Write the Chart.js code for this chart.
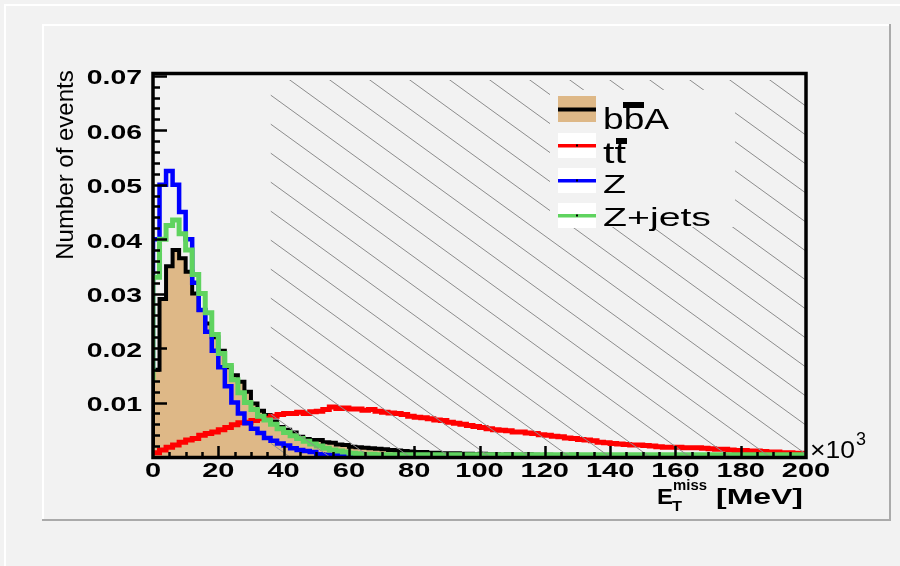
<!DOCTYPE html>
<html>
<head>
<meta charset="utf-8">
<script src="https://cdn.jsdelivr.net/npm/chart.js@4.4.1/dist/chart.umd.min.js"></script>
<style>
  html, body { margin: 0; padding: 0; background: #f2f2f2; }
  canvas { display: block; }
</style>
</head>
<body>
<canvas id="c" width="900" height="566"></canvas>
<script>
// histogram binning (x in units of 10^3 MeV)
const binWidth = 2;
const xTickLabels = ['0', '20', '40', '60', '80', '100', '120', '140', '160', '180', '200'];
const yTickLabels = ['0.01', '0.02', '0.03', '0.04', '0.05', '0.06', '0.07'];
const seriesNames = ['bbA', 'tt', 'Z', 'Z+jets'];
const cutStart = 36;

// bbA signal (filled)
const bbA = [
  0.002, 0.016, 0.029, 0.035, 0.038, 0.0365, 0.034, 0.030, 0.027, 0.0245,
  0.022, 0.0195, 0.0165, 0.015, 0.0138, 0.012, 0.0098, 0.0085, 0.0077, 0.0065,
  0.0055, 0.0050, 0.0045, 0.0037, 0.0033, 0.0031, 0.0031, 0.0027, 0.0026, 0.0023,
  0.0022, 0.0019, 0.0018, 0.0017, 0.0016, 0.0015, 0.0014, 0.0013, 0.0012, 0.0011,
  0.0010, 0.0009, 0.0009, 0.0008, 0.0008, 0.0007, 0.0007, 0.0007, 0.0006, 0.0006,
  0.0005, 0.0006, 0.0005, 0.0005, 0.0004, 0.0005, 0.0004, 0.0004, 0.0005, 0.0004,
  0.0003, 0.0004, 0.0003, 0.0003, 0.0003, 0.0004, 0.0003, 0.0003, 0.0002, 0.0003,
  0.0002, 0.0002, 0.0003, 0.0002, 0.0002, 0.0002, 0.0002, 0.0002, 0.0002, 0.0002,
  0.0002, 0.0002, 0.0001, 0.0002, 0.0002, 0.0001, 0.0002, 0.0001, 0.0001, 0.0002,
  0.0001, 0.0001, 0.0001, 0.0001, 0.0001, 0.0001, 0.0001, 0.0001, 0.0001, 0.0001
];

// ttbar
const ttbar = [
  0.0004, 0.0008, 0.0013, 0.0018, 0.0022, 0.0027, 0.0031, 0.0034, 0.0040, 0.0043,
  0.0046, 0.0050, 0.0054, 0.0059, 0.0063, 0.0064, 0.0067, 0.0070, 0.0071, 0.0075,
  0.0078, 0.0080, 0.0080, 0.0082, 0.0080, 0.0083, 0.0084, 0.0087, 0.0092, 0.0089,
  0.0090, 0.0088, 0.0088, 0.0086, 0.0087, 0.0084, 0.0082, 0.0081, 0.0080, 0.0078,
  0.0075, 0.0073, 0.0072, 0.0070, 0.0068, 0.0067, 0.0064, 0.0062, 0.0060, 0.0058,
  0.0056, 0.0054, 0.0052, 0.0050, 0.0049, 0.0048, 0.0046, 0.0046, 0.0044, 0.0043,
  0.0041, 0.0040, 0.0038, 0.0037, 0.0035, 0.0034, 0.0032, 0.0031, 0.0030, 0.0027,
  0.0026, 0.0025, 0.0024, 0.0023, 0.0022, 0.0022, 0.0021, 0.0020, 0.0019, 0.0018,
  0.0018, 0.0018, 0.0017, 0.0017, 0.0017, 0.0016, 0.0015, 0.0014, 0.0014, 0.0013,
  0.0012, 0.0012, 0.0011, 0.0011, 0.0010, 0.0009, 0.0009, 0.0008, 0.0008, 0.0007
];

// Z
const zOnly = [
  0.016, 0.040, 0.050, 0.0525, 0.050, 0.045, 0.040, 0.032, 0.027, 0.023,
  0.0195, 0.0165, 0.013, 0.0100, 0.0080, 0.0062, 0.0052, 0.0044, 0.0035, 0.0030,
  0.0025, 0.0021, 0.0016, 0.0013, 0.0011, 0.0009, 0.0005, 0.0004, 0.0003, 0.0003,
  0.0002, 0.0002, 0.0001, 0.0001, 0.0001, 0.0001, 0.0001, 0, 0, 0,
  0, 0, 0, 0, 0, 0, 0, 0, 0, 0,
  0, 0, 0, 0, 0, 0, 0, 0, 0, 0,
  0, 0, 0, 0, 0, 0, 0, 0, 0, 0,
  0, 0, 0, 0, 0, 0, 0, 0, 0, 0,
  0, 0, 0, 0, 0, 0, 0, 0, 0, 0,
  0, 0, 0, 0, 0, 0, 0, 0, 0, 0
];

// Z+jets
const zJets = [
  0.014, 0.033, 0.040, 0.0425, 0.0435, 0.041, 0.038, 0.0335, 0.030, 0.0265,
  0.0225, 0.019, 0.0168, 0.0142, 0.0118, 0.010, 0.0087, 0.0075, 0.0068, 0.0060,
  0.0052, 0.0045, 0.0039, 0.0034, 0.0029, 0.0024, 0.0020, 0.0016, 0.0013, 0.0011,
  0.0009, 0.0007, 0.0006, 0.0005, 0.0005, 0.0004, 0.0004, 0.0004, 0.0004, 0.0004,
  0.0004, 0.0004, 0.0004, 0.0004, 0.0004, 0.0004, 0.0004, 0.0004, 0.0004, 0.0004,
  0.0004, 0.0004, 0.0004, 0.0004, 0.0004, 0.0004, 0.0004, 0.0004, 0.0004, 0.0004,
  0.0004, 0.0004, 0.0004, 0.0004, 0.0004, 0.0004, 0.0004, 0.0004, 0.0004, 0.0004,
  0.0004, 0.0004, 0.0004, 0.0004, 0.0004, 0.0004, 0.0004, 0.0004, 0.0004, 0.0004,
  0.0004, 0.0004, 0.0004, 0.0004, 0.0004, 0.0004, 0.0004, 0.0004, 0.0004, 0.0004,
  0.0004, 0.0004, 0.0004, 0.0004, 0.0004, 0.0004, 0.0004, 0.0004, 0.0004, 0.0004
];

const FONT = '"Liberation Sans", Arial, Helvetica, sans-serif';

// left bin edges, plus closing point so last bin gets drawn
function histPoints(vals) {
  const pts = vals.map((v, i) => ({ x: i * binWidth, y: v }));
  pts.push({ x: vals.length * binWidth, y: vals[vals.length - 1] });
  return pts;
}

// text squeezed/stretched horizontally, ROOT output looks wide
function txt(c, s, x, y, font, opt) {
  opt = opt || {};
  c.save();
  c.font = font;
  c.fillStyle = opt.color || '#000';
  const nat = c.measureText(s).width;
  const sx = opt.width ? opt.width / nat : (opt.sx || 1);
  c.translate(x, y);
  c.scale(sx, 1);
  c.textAlign = opt.align || 'left';
  c.textBaseline = opt.base || 'alphabetic';
  c.fillText(s, 0, 0);
  c.restore();
}

const rootStyle = {
  id: 'rootStyle',
  beforeDraw(chart) {
    const c = chart.ctx;
    c.save();
    c.fillStyle = '#f2f2f2';
    c.fillRect(0, 0, chart.width, chart.height);
    // outer canvas edge
    c.strokeStyle = '#ffffff';
    c.lineWidth = 2;
    c.beginPath();
    c.moveTo(5, 566); c.lineTo(5, 5); c.lineTo(900, 5);
    c.stroke();
    // pad bevel
    c.beginPath();
    c.moveTo(43, 520); c.lineTo(43, 25); c.lineTo(890, 25);
    c.stroke();
    c.strokeStyle = '#aaaaaa';
    c.beginPath();
    c.moveTo(890, 24); c.lineTo(890, 520); c.lineTo(42, 520);
    c.stroke();
    c.restore();
  },
  afterDatasetsDraw(chart) {
    const c = chart.ctx;
    const a = chart.chartArea;
    const xs = chart.scales.x, ys = chart.scales.y;

    // hatched cut region
    const hx = xs.getPixelForValue(cutStart);
    c.save();
    c.beginPath();
    c.rect(hx, 80, a.right - hx, a.bottom - 80);
    c.clip();
    c.strokeStyle = '#8c8c8c';
    c.lineWidth = 1;
    c.beginPath();
    for (let k = -30; k < 20; k++) {
      const y0 = 95 + k * 29;
      c.moveTo(hx, y0);
      c.lineTo(a.right, y0 + 0.725 * (a.right - hx));
    }
    c.stroke();
    c.restore();

    // legend
    c.save();
    c.fillStyle = '#f2f2f2';
    c.fillRect(550, 90, 185, 137);
    c.fillStyle = '#deb887';
    c.fillRect(558, 96, 38, 26);
    c.fillStyle = '#000';
    c.fillRect(558, 107.5, 38, 4);
    const legRows = [
      { y: 133, col: '#ff0000' },
      { y: 168, col: '#0000ff' },
      { y: 203, col: '#5fd35f' }
    ];
    legRows.forEach(r => {
      c.fillStyle = '#ffffff';
      c.fillRect(558, r.y, 38, 25);
      c.fillStyle = r.col;
      c.fillRect(558, r.y + 11, 38, 3.5);
      c.fillStyle = '#000';
      c.fillRect(576, r.y + 11.5, 2, 2);
    });
    txt(c, seriesNames[0], 603, 129, '29px ' + FONT, { width: 66 });
    c.fillRect(623, 102, 21, 6);
    txt(c, seriesNames[1], 603, 163, '29px ' + FONT, { width: 23 });
    c.fillRect(616, 138, 11, 6);
    txt(c, seriesNames[2], 603, 193, '26px ' + FONT, { width: 23 });
    txt(c, seriesNames[3], 603, 226, '26px ' + FONT, { width: 108 });
    c.restore();

    // frame
    c.save();
    c.strokeStyle = '#000';
    c.lineWidth = 3.5;
    c.strokeRect(a.left, a.top + 0.5, a.right - a.left, a.bottom - a.top);

    // y ticks (inside)
    c.lineWidth = 2.5;
    c.beginPath();
    for (let v = 0.002; v <= ys.max + 1e-9; v += 0.002) {
      const py = Math.round(ys.getPixelForValue(v)) + 0.5;
      const major = Math.abs(v / 0.01 - Math.round(v / 0.01)) < 1e-6;
      c.moveTo(a.left, py);
      c.lineTo(a.left + (major ? 14 : 7), py);
    }
    // x ticks (inside, pointing up)
    for (let v = 5; v < 200; v += 5) {
      const px = Math.round(xs.getPixelForValue(v)) + 0.5;
      const major = v % 20 === 0;
      c.moveTo(px, a.bottom);
      c.lineTo(px, a.bottom - (major ? 11 : 5));
    }
    c.stroke();
    c.restore();

    // tick labels
    yTickLabels.forEach(t => {
      const py = ys.getPixelForValue(parseFloat(t)) + 3;
      txt(c, t, 142, py, 'bold 20px ' + FONT, { sx: 1.42, align: 'right', base: 'middle' });
    });
    xTickLabels.forEach(t => {
      const px = xs.getPixelForValue(parseFloat(t));
      txt(c, t, px, 471, 'bold 20px ' + FONT, { sx: 1.45, align: 'center', base: 'middle' });
    });

    // x10^3 exponent
    txt(c, '\u00d710', 810, 458, '24px ' + FONT, { width: 45 });
    txt(c, '3', 856, 445, '19px ' + FONT, { width: 10 });

    // x title
    txt(c, 'E', 657, 504, 'bold 22px ' + FONT, { width: 16 });
    txt(c, 'T', 672, 511, 'bold 15px ' + FONT, { width: 10 });
    txt(c, 'miss', 673, 490, 'bold 15px ' + FONT, { width: 34 });
    txt(c, '[MeV]', 716, 504, 'bold 22px ' + FONT, { width: 87 });

    // y title
    c.save();
    c.translate(73, 165);
    c.rotate(-Math.PI / 2);
    c.font = '24px ' + FONT;
    c.fillStyle = '#000';
    c.textAlign = 'center';
    c.fillText('Number of events', 0, 0);
    c.restore();
  }
};

const ctx = document.getElementById('c').getContext('2d');
new Chart(ctx, {
  type: 'line',
  data: {
    datasets: [
      { label: seriesNames[3], data: histPoints(zJets), borderColor: '#5fd35f', borderWidth: 5, order: 0 },
      { label: seriesNames[2], data: histPoints(zOnly), borderColor: '#0000ff', borderWidth: 4.5, order: 1 },
      { label: seriesNames[1], data: histPoints(ttbar), borderColor: '#ff0000', borderWidth: 5, order: 2 },
      { label: seriesNames[0], data: histPoints(bbA), borderColor: '#000000', backgroundColor: '#deb887',
        fill: 'origin', borderWidth: 4, order: 3 }
    ]
  },
  options: {
    responsive: false,
    animation: false,
    events: [],
    datasets: { line: { stepped: 'after', pointRadius: 0, tension: 0, fill: false } },
    layout: { padding: { left: 153, right: 94, top: 73, bottom: 109 } },
    plugins: { legend: { display: false }, tooltip: { enabled: false } },
    scales: {
      x: { type: 'linear', min: 0, max: 200, display: false },
      y: { min: 0, max: 0.0705, display: false }
    }
  },
  plugins: [rootStyle]
});
</script>
</body>
</html>
